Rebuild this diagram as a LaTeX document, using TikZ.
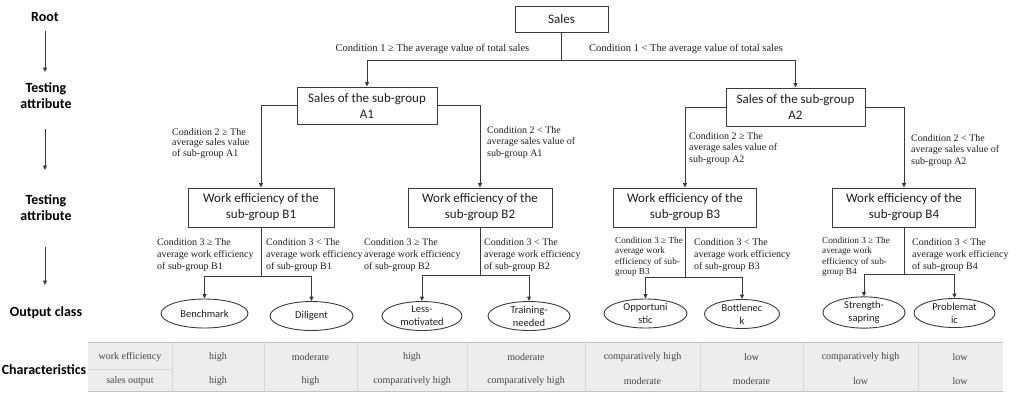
\documentclass[tikz,border=0pt]{standalone}
\usepackage{fontspec}
\setmainfont{Liberation Serif}
\newfontfamily\calibri{Carlito}
\usetikzlibrary{arrows.meta,shapes.geometric}
\definecolor{linec}{HTML}{3A3A3A}
\definecolor{txtc}{HTML}{1E1E1E}
\definecolor{cellc}{HTML}{454545}
\definecolor{tabfill}{HTML}{EDEDED}
\definecolor{tabline}{HTML}{C4C4C4}
\definecolor{tabsep}{HTML}{D6D6D6}
\begin{document}
\begin{tikzpicture}[x=1pt,y=-1pt,
  box/.style={draw=linec, line width=0.9pt, fill=white, inner sep=0pt, align=center, text=txtc,
    font=\calibri\fontsize{13}{16}\selectfont},
  leaf/.style={ellipse, draw=linec, line width=0.9pt, inner sep=0pt, align=center, text=txtc,
    minimum width=84pt, minimum height=29pt, font=\calibri\fontsize{10.5}{13}\selectfont},
  cond/.style={inner sep=0pt, align=left, anchor=north west, text=txtc,
    font=\fontsize{10}{11.5}\selectfont},
  lvl/.style={inner sep=0pt, align=center, text=black},
  conn/.style={draw=linec, line width=0.9pt, -{Triangle[length=4.5pt,width=4pt]}},
  plain/.style={draw=linec, line width=0.9pt},
  cell/.style={inner sep=0pt, text=cellc, font=\fontsize{10}{12}\selectfont}
]
\useasboundingbox (0,0) rectangle (1021,397);

% ---- level labels ----
\node[lvl, font=\calibri\bfseries\fontsize{14}{17}\selectfont] (lroot) at (45,17) {Root};
\node[lvl, font=\calibri\bfseries\fontsize{14}{16}\selectfont] (ltest1) at (46,96) {Testing\\attribute};
\node[lvl, font=\calibri\bfseries\fontsize{14}{16}\selectfont] (ltest2) at (46,208) {Testing\\attribute};
\node[lvl, font=\calibri\bfseries\fontsize{14}{17}\selectfont] (lout) at (46,313) {Output class};
\node[lvl, font=\calibri\bfseries\fontsize{14}{17}\selectfont] (lchar) at (44,370) {Characteristics};
\coordinate (la1) at (45,31); \coordinate (la2) at (45,72);
\coordinate (lb1) at (45,129); \coordinate (lb2) at (45,170);
\coordinate (lc1) at (45,247); \coordinate (lc2) at (45,285);
\draw[conn] (la1) -- (la2);
\draw[conn] (lb1) -- (lb2);
\draw[conn] (lc1) -- (lc2);

% ---- table ----
\fill[tabfill] (88,342) rectangle (1003,391);
\draw[tabline, line width=0.8pt] (88,342) -- (1003,342);
\draw[tabline, line width=0.8pt] (88,391) -- (1003,391);
\draw[tabsep, line width=0.6pt] (88,369) -- (172,369);
\foreach \xx in {172,264,357,467,585,700,803,918}
  \draw[tabsep, line width=0.8pt] (\xx,342) -- (\xx,391);
\node[cell] (r1c0) at (130,357) {work efficiency};
\node[cell] (r2c0) at (130,381) {sales output};
\node[cell] (r1c1) at (218,357) {high};
\node[cell] (r2c1) at (218,381) {high};
\node[cell] (r1c2) at (310.5,357) {moderate};
\node[cell] (r2c2) at (310.5,381) {high};
\node[cell] (r1c3) at (412,357) {high};
\node[cell] (r2c3) at (412,381) {comparatively high};
\node[cell] (r1c4) at (526,357) {moderate};
\node[cell] (r2c4) at (526,381) {comparatively high};
\node[cell] (r1c5) at (642.5,357) {comparatively high};
\node[cell] (r2c5) at (642.5,381) {moderate};
\node[cell] (r1c6) at (751.5,357) {low};
\node[cell] (r2c6) at (751.5,381) {moderate};
\node[cell] (r1c7) at (860.5,357) {comparatively high};
\node[cell] (r2c7) at (860.5,381) {low};
\node[cell] (r1c8) at (960,357) {low};
\node[cell] (r2c8) at (960,381) {low};

% ---- tree boxes ----
\node[box, minimum width=93pt, minimum height=26pt] (sales) at (561.5,19) {Sales};
\node[box, minimum width=140pt, minimum height=37pt] (A1) at (367,105.5) {Sales of the sub-group\\A1};
\node[box, minimum width=139pt, minimum height=38pt] (A2) at (795.5,107) {Sales of the sub-group\\A2};
\node[box, minimum width=146pt, minimum height=39pt] (B1) at (261,207.5) {Work efficiency of the\\sub-group B1};
\node[box, minimum width=144pt, minimum height=39pt] (B2) at (480,207.5) {Work efficiency of the\\sub-group B2};
\node[box, minimum width=143pt, minimum height=39pt] (B3) at (685,207.5) {Work efficiency of the\\sub-group B3};
\node[box, minimum width=143pt, minimum height=39pt] (B4) at (904,207.5) {Work efficiency of the\\sub-group B4};

% ---- leaves ----
\node[leaf, minimum width=87pt] (E1) at (204.5,313.5) {Benchmark};
\node[leaf, minimum width=83pt] (E2) at (311.5,316) {Diligent};
\node[leaf, minimum width=80pt] (E3) at (422,316) {Less-\\motivated};
\node[leaf, minimum width=82pt] (E4) at (529,316) {Training-\\needed};
\node[leaf, minimum width=83pt] (E5) at (645.5,313.5) {Opportuni\\stic};
\node[leaf, minimum width=75pt] (E6) at (742,314) {Bottlenec\\k};
\node[leaf, minimum width=82pt] (E7) at (864,312.5) {Strength-\\sapring};
\node[leaf, minimum width=81pt] (E8) at (954.5,313) {Problemat\\ic};

% ---- connectors ----
\coordinate (s1) at (561.5,60);
\draw[plain] (sales.south) -- (s1);
\draw[conn] (s1) -| (A1.north);
\draw[conn] (s1) -| (A2.north);
\draw[conn] (A1.west) -| (B1.north);
\draw[conn] (A1.east) -| (B2.north);
\draw[conn] (A2.west) -| (B3.north);
\draw[conn] (A2.east) -| (B4.north);

\coordinate (b1) at (261,276);
\coordinate (b2) at (480,275);
\coordinate (b3) at (685,277);
\coordinate (b4) at (904,274);
\draw[plain] (B1.south) -- (b1);
\draw[plain] (B2.south) -- (b2);
\draw[plain] (B3.south) -- (b3);
\draw[plain] (B4.south) -- (b4);
\draw[conn] (b1) -| (E1.north);
\draw[conn] (b1) -| (E2.north);
\draw[conn] (b2) -| (E3.north);
\draw[conn] (b2) -| (E4.north);
\draw[conn] (b3) -| (E5.north);
\draw[conn] (b3) -| (E6.north);
\draw[conn] (b4) -| (E7.north);
\draw[conn] (b4) -| (E8.north);

% ---- condition labels ----
\node[inner sep=0pt, text=txtc, font=\fontsize{10.5}{12}\selectfont] (c1l) at (432.5,49) {Condition 1 ≥ The average value of total sales};
\node[inner sep=0pt, text=txtc, font=\fontsize{10.5}{12}\selectfont] (c1r) at (686,49) {Condition 1 < The average value of total sales};

\node[cond, font=\fontsize{10}{10.5}\selectfont] (c2a) at (172,128) {Condition 2 ≥ The\\average sales value\\of sub-group A1};
\node[cond] (c2b) at (487,126) {Condition 2 < The\\average sales value of\\sub-group A1};
\node[cond] (c2c) at (689,132) {Condition 2 ≥ The\\average sales value of\\sub-group A2};
\node[cond] (c2d) at (911,134) {Condition 2 < The\\average sales value of\\sub-group A2};

\node[cond, font=\fontsize{10}{12}\selectfont] (c3a) at (157,238) {Condition 3 ≥ The\\average work efficiency\\of sub-group B1};
\node[cond, font=\fontsize{10}{12}\selectfont] (c3b) at (266,238) {Condition 3 < The\\average work efficiency\\of sub-group B1};
\node[cond, font=\fontsize{10}{12}\selectfont] (c3c) at (364,238) {Condition 3 ≥ The\\average work efficiency\\of sub-group B2};
\node[cond, font=\fontsize{10}{12}\selectfont] (c3d) at (484,238) {Condition 3 < The\\average work efficiency\\of sub-group B2};
\node[cond, font=\fontsize{9.2}{10.4}\selectfont] (c3e) at (615,237) {Condition 3 ≥ The\\average work\\efficiency of sub-\\group B3};
\node[cond, font=\fontsize{10}{12}\selectfont] (c3f) at (694,238) {Condition 3 < The\\average work efficiency\\of sub-group B3};
\node[cond, font=\fontsize{9.2}{10.4}\selectfont] (c3g) at (822,237) {Condition 3 ≥ The\\average work\\efficiency of sub-\\group B4};
\node[cond, font=\fontsize{10}{12}\selectfont] (c3h) at (912,238) {Condition 3 < The\\average work efficiency\\of sub-group B4};
\end{tikzpicture}
\end{document}
